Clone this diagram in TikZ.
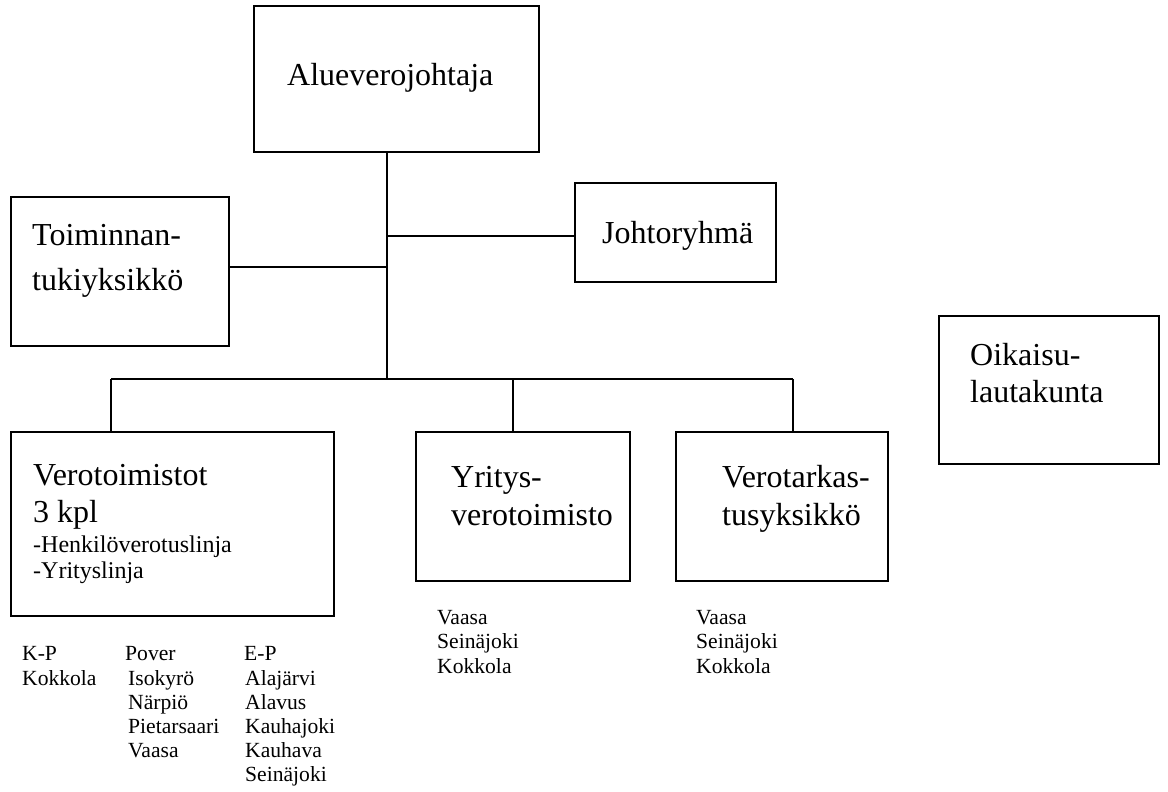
\documentclass[tikz,border=0pt]{standalone}
\usepackage{fontspec}
\setmainfont{Liberation Serif}
\begin{document}
\begin{tikzpicture}[x=1pt,y=-1pt,
  box/.style={draw=black,line width=1.8pt,fill=white,inner sep=0pt},
  conn/.style={draw=black,line width=1.4pt},
  big/.style={anchor=base west,inner sep=0pt,font=\fontsize{32}{38}\selectfont},
  mid/.style={anchor=base west,inner sep=0pt,font=\fontsize{24}{28}\selectfont},
  small/.style={anchor=base west,inner sep=0pt,font=\fontsize{21.6}{24}\selectfont}]
\useasboundingbox (0,0) rectangle (1168,792);
% boxes
\node[box,minimum width=285pt,minimum height=146pt] (alue) at (396.5,79) {};
\node[box,minimum width=218pt,minimum height=149pt] (toim) at (120,271.5) {};
\node[box,minimum width=201pt,minimum height=99pt] (joht) at (675.5,232.5) {};
\node[box,minimum width=220pt,minimum height=148pt] (oik) at (1049,390) {};
\node[box,minimum width=323pt,minimum height=184pt] (vero) at (172.5,524) {};
\node[box,minimum width=214pt,minimum height=149pt] (yrit) at (523,506.5) {};
\node[box,minimum width=212pt,minimum height=149pt] (tark) at (782,506.5) {};
% junctions
\coordinate (spine) at (387,379);
\coordinate (jt) at (387,267);
\coordinate (jj) at (387,236);
\coordinate (bl) at (111,379);
\coordinate (bm) at (513,379);
\coordinate (br) at (793,379);
% connectors
\draw[conn] (spine |- alue.south) -- (spine);
\draw[conn] (jt -| toim.east) -- (jt);
\draw[conn] (jj) -- (jj -| joht.west);
\draw[conn] (bl) -- (br);
\draw[conn] (bl) -- (bl |- vero.north);
\draw[conn] (bm) -- (bm |- yrit.north);
\draw[conn] (br) -- (br |- tark.north);
% texts
\node[big] (t1) at (287,85) {Alueverojohtaja};
\node[big] (t2) at (32,245) {Toiminnan-};
\node[big] (t3) at (32,290) {tukiyksikkö};
\node[big] (t4) at (602,243) {Johtoryhmä};
\node[big] (t5) at (970,365) {Oikaisu-};
\node[big] (t6) at (970,402) {lautakunta};
\node[big] (t7) at (33,485) {Verotoimistot};
\node[big] (t8) at (33,522) {3 kpl};
\node[mid] (t9) at (33,552) {-Henkilöverotuslinja};
\node[mid] (t10) at (33,578) {-Yrityslinja};
\node[big] (t11) at (451,487) {Yritys-};
\node[big] (t12) at (451,525) {verotoimisto};
\node[big] (t13) at (722,487) {Verotarkas-};
\node[big] (t14) at (722,525) {tusyksikkö};
% lists
\node[small] (a1) at (437,624) {Vaasa};
\node[small] (a2) at (437,648) {Seinäjoki};
\node[small] (a3) at (437,673) {Kokkola};
\node[small] (b1) at (696,624) {Vaasa};
\node[small] (b2) at (696,648) {Seinäjoki};
\node[small] (b3) at (696,673) {Kokkola};
\node[small] (c1) at (22,660) {K-P};
\node[small] (c2) at (22,685) {Kokkola};
\node[small] (d1) at (125,660) {Pover};
\node[small] (d2) at (128,685) {Isokyrö};
\node[small] (d3) at (128,709) {Närpiö};
\node[small] (d4) at (128,733) {Pietarsaari};
\node[small] (d5) at (128,757) {Vaasa};
\node[small] (e1) at (244,660) {E-P};
\node[small] (e2) at (245,685) {Alajärvi};
\node[small] (e3) at (245,709) {Alavus};
\node[small] (e4) at (245,733) {Kauhajoki};
\node[small] (e5) at (245,757) {Kauhava};
\node[small] (e6) at (245,781) {Seinäjoki};
\end{tikzpicture}
\end{document}
